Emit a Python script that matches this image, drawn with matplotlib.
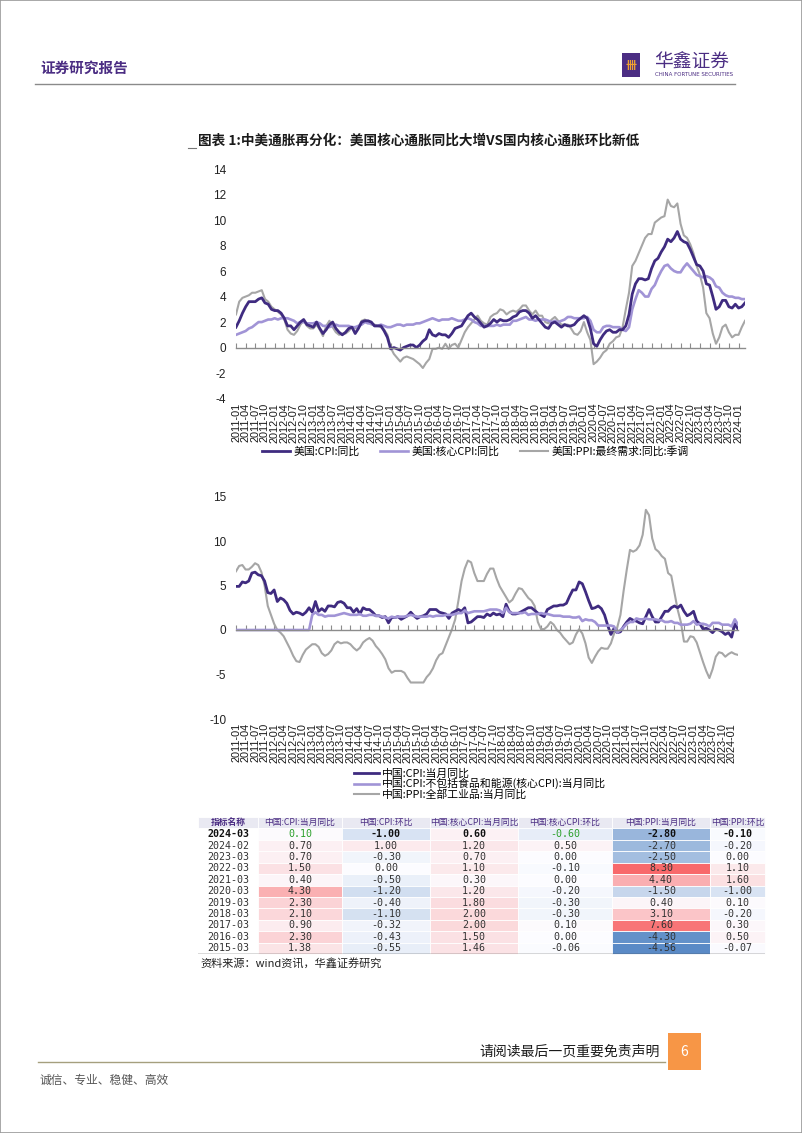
import numpy as np
import pandas as pd
import matplotlib
matplotlib.use("Agg")
import matplotlib.pyplot as plt
from matplotlib.patches import Rectangle
from matplotlib.colors import to_rgb

plt.rcParams['font.family'] = ['Noto Sans CJK SC', 'DejaVu Sans']
plt.rcParams['axes.unicode_minus'] = False

# ---- data: monthly, 2011-01 .. 2024-03 ----
months = pd.date_range('2011-01-01', '2024-03-01', freq='MS')

us_cpi = [1.6, 2.1, 2.7, 3.2, 3.6, 3.6, 3.6, 3.8, 3.9, 3.5, 3.4, 3.0,
          2.9, 2.9, 2.7, 2.3, 1.7, 1.7, 1.4, 1.7, 2.0, 2.2, 1.8, 1.7,
          1.6, 2.0, 1.5, 1.1, 1.4, 1.8, 2.0, 1.5, 1.2, 1.0, 1.2, 1.5,
          1.6, 1.1, 1.5, 2.0, 2.1, 2.1, 2.0, 1.7, 1.7, 1.7, 1.3, 0.8,
          -0.1, 0.0, -0.1, -0.2, 0.0, 0.1, 0.2, 0.2, 0.0, 0.2, 0.5, 0.7,
          1.4, 1.0, 0.9, 1.1, 1.0, 1.0, 0.8, 1.1, 1.5, 1.6, 1.7, 2.1,
          2.5, 2.7, 2.4, 2.2, 1.9, 1.6, 1.7, 1.9, 2.2, 2.0, 2.2, 2.1,
          2.1, 2.2, 2.4, 2.5, 2.8, 2.9, 2.9, 2.7, 2.3, 2.5, 2.2, 1.9,
          1.6, 1.5, 1.9, 2.0, 1.8, 1.6, 1.8, 1.7, 1.7, 1.8, 2.1, 2.3,
          2.5, 2.3, 1.5, 0.3, 0.1, 0.6, 1.0, 1.3, 1.4, 1.2, 1.2, 1.4,
          1.4, 1.7, 2.6, 4.2, 5.0, 5.4, 5.4, 5.3, 5.4, 6.2, 6.8, 7.0,
          7.5, 7.9, 8.5, 8.3, 8.6, 9.1, 8.5, 8.3, 8.2, 7.7, 7.1, 6.5,
          6.4, 6.0, 5.0, 4.9, 4.0, 3.0, 3.2, 3.7, 3.7, 3.2, 3.1, 3.4,
          3.1, 3.2, 3.5]

us_core = [1.0, 1.1, 1.2, 1.3, 1.5, 1.6, 1.8, 2.0, 2.0, 2.1, 2.2, 2.2,
           2.3, 2.2, 2.3, 2.3, 2.3, 2.2, 2.1, 1.9, 2.0, 2.0, 1.9, 1.9,
           1.9, 2.0, 1.9, 1.7, 1.7, 1.6, 1.7, 1.8, 1.7, 1.7, 1.7, 1.7,
           1.6, 1.6, 1.7, 1.8, 2.0, 1.9, 1.9, 1.7, 1.7, 1.8, 1.7, 1.6,
           1.6, 1.7, 1.8, 1.8, 1.7, 1.8, 1.8, 1.8, 1.9, 1.9, 2.0, 2.1,
           2.2, 2.3, 2.2, 2.1, 2.2, 2.2, 2.2, 2.3, 2.2, 2.1, 2.1, 2.2,
           2.3, 2.2, 2.0, 1.9, 1.7, 1.7, 1.7, 1.7, 1.7, 1.8, 1.7, 1.8,
           1.8, 1.8, 2.1, 2.1, 2.2, 2.3, 2.4, 2.2, 2.2, 2.1, 2.2, 2.2,
           2.2, 2.1, 2.0, 2.1, 2.0, 2.1, 2.2, 2.4, 2.4, 2.3, 2.3, 2.3,
           2.3, 2.4, 2.1, 1.4, 1.2, 1.2, 1.6, 1.7, 1.7, 1.6, 1.6, 1.6,
           1.4, 1.3, 1.6, 3.0, 3.8, 4.5, 4.3, 4.0, 4.0, 4.6, 4.9, 5.5,
           6.0, 6.4, 6.5, 6.2, 6.0, 5.9, 5.9, 6.3, 6.6, 6.3, 6.0, 5.7,
           5.6, 5.5, 5.6, 5.5, 5.3, 4.8, 4.7, 4.3, 4.1, 4.0, 4.0, 3.9,
           3.9, 3.8, 3.8]

us_ppi = [2.6, 3.6, 3.9, 4.0, 4.1, 4.3, 4.3, 4.4, 4.5, 3.8, 3.6, 3.2,
          3.0, 2.8, 2.6, 2.2, 1.4, 1.1, 1.0, 1.3, 1.8, 2.1, 1.7, 1.5,
          1.5, 1.8, 1.4, 0.9, 1.7, 2.1, 1.6, 1.2, 1.0, 1.1, 1.1, 1.3,
          1.6, 1.5, 1.6, 2.1, 2.2, 2.0, 1.8, 1.8, 1.7, 1.6, 1.4, 1.0,
          0.0, -0.5, -0.8, -1.1, -0.8, -0.7, -0.8, -0.9, -1.1, -1.3, -1.6, -1.2,
          -0.9, -0.1, -0.1, 0.0, -0.1, 0.3, -0.1, 0.2, 0.3, 0.0, 0.6, 1.2,
          1.6, 1.9, 2.2, 2.5, 2.1, 1.9, 1.8, 2.4, 2.6, 2.7, 3.0, 2.9,
          2.6, 2.8, 2.9, 2.8, 3.0, 3.3, 3.3, 2.9, 2.6, 2.9, 2.5, 2.5,
          2.0, 1.9, 2.2, 2.4, 2.1, 1.8, 1.8, 1.8, 1.5, 1.1, 1.0, 1.3,
          2.0, 1.2, 0.6, -1.3, -1.1, -0.8, -0.4, -0.2, 0.3, 0.5, 0.8, 0.9,
          1.6, 3.0, 4.3, 6.4, 6.8, 7.4, 8.0, 8.6, 8.9, 8.9, 9.8, 10.0,
          10.2, 10.3, 11.6, 11.1, 11.0, 11.3, 9.7, 8.8, 8.6, 8.1, 7.4, 6.4,
          5.7, 4.7, 2.7, 2.3, 1.1, 0.3, 0.8, 1.6, 1.8, 1.2, 0.8, 1.0,
          1.0, 1.6, 2.1]

cn_cpi = [4.9, 4.9, 5.4, 5.3, 5.5, 6.4, 6.5, 6.2, 6.1, 5.5, 4.2, 4.1,
          4.5, 3.2, 3.6, 3.4, 3.0, 2.2, 1.8, 2.0, 1.9, 1.7, 2.0, 2.5,
          2.0, 3.2, 2.1, 2.4, 2.1, 2.7, 2.7, 2.6, 3.1, 3.2, 3.0, 2.5,
          2.5, 2.0, 2.4, 1.8, 2.5, 2.3, 2.3, 2.0, 1.6, 1.6, 1.4, 1.5,
          0.8, 1.4, 1.4, 1.5, 1.2, 1.4, 1.6, 2.0, 1.6, 1.3, 1.5, 1.6,
          1.8, 2.3, 2.3, 2.3, 2.0, 1.9, 1.8, 1.3, 1.9, 2.1, 2.3, 2.1,
          2.5, 0.8, 0.9, 1.2, 1.5, 1.5, 1.4, 1.8, 1.6, 1.9, 1.7, 1.8,
          1.5, 2.9, 2.1, 1.8, 1.8, 1.9, 2.1, 2.3, 2.5, 2.5, 2.2, 1.9,
          1.7, 1.5, 2.3, 2.5, 2.7, 2.7, 2.8, 2.8, 3.0, 3.8, 4.5, 4.5,
          5.4, 5.2, 4.3, 3.3, 2.4, 2.5, 2.7, 2.4, 1.7, 0.5, -0.5, 0.2,
          -0.3, -0.2, 0.4, 0.9, 1.3, 1.1, 1.0, 0.8, 0.7, 1.5, 2.3, 1.5,
          0.9, 0.9, 1.5, 2.1, 2.1, 2.5, 2.7, 2.5, 2.8, 2.1, 1.6, 1.8,
          2.1, 1.0, 0.7, 0.1, 0.2, 0.0, -0.3, 0.1, 0.0, -0.2, -0.5, -0.3,
          -0.8, 0.7, 0.1]

cn_core = [0.0] * 24 + [
           1.7, 2.0, 1.7, 1.7, 1.5, 1.6, 1.6, 1.6, 1.7, 1.8, 1.9, 1.8,
           1.7, 1.7, 1.7, 1.8, 1.6, 1.6, 1.7, 1.7, 1.6, 1.6, 1.5, 1.4,
           1.3, 1.5, 1.4, 1.5, 1.5, 1.5, 1.6, 1.7, 1.6, 1.5, 1.5, 1.5,
           1.5, 1.6, 1.5, 1.6, 1.6, 1.6, 1.7, 1.7, 1.7, 1.8, 1.9, 1.9,
           2.2, 1.9, 2.0, 2.1, 2.1, 2.1, 2.1, 2.2, 2.3, 2.3, 2.3, 2.2,
           1.9, 2.5, 2.0, 1.9, 1.9, 1.9, 1.9, 2.0, 1.7, 1.8, 1.8, 1.8,
           1.9, 1.8, 1.8, 1.7, 1.6, 1.6, 1.6, 1.5, 1.5, 1.5, 1.4, 1.4,
           1.5, 1.0, 1.2, 1.1, 1.1, 0.9, 0.5, 0.5, 0.5, 0.5, 0.5, 0.4,
           -0.3, 0.0, 0.3, 0.7, 0.9, 0.9, 1.3, 1.2, 1.2, 1.3, 1.2, 1.2,
           1.2, 1.1, 1.1, 0.9, 0.9, 1.0, 0.8, 0.8, 0.6, 0.6, 0.6, 0.7,
           1.0, 0.6, 0.7, 0.7, 0.6, 0.4, 0.8, 0.8, 0.8, 0.6, 0.6, 0.6,
           0.4, 1.2, 0.6]

cn_ppi = [6.6, 7.2, 7.3, 6.8, 6.8, 7.1, 7.5, 7.3, 6.5, 5.0, 2.7, 1.7,
          0.7, 0.0, -0.3, -0.7, -1.4, -2.1, -2.9, -3.5, -3.6, -2.8, -2.2, -1.9,
          -1.6, -1.6, -1.9, -2.6, -2.9, -2.7, -2.3, -1.6, -1.3, -1.5, -1.4, -1.4,
          -1.6, -2.0, -2.3, -2.0, -1.4, -1.1, -0.9, -1.2, -1.8, -2.2, -2.7, -3.3,
          -4.3, -4.8, -4.6, -4.6, -4.6, -4.8, -5.4, -5.9, -5.9, -5.9, -5.9, -5.9,
          -5.3, -4.9, -4.3, -3.4, -2.8, -2.6, -1.7, -0.8, 0.1, 1.2, 3.3, 5.5,
          6.9, 7.8, 7.6, 6.4, 5.5, 5.5, 5.5, 6.3, 6.9, 6.9, 5.8, 4.9,
          4.3, 3.7, 3.1, 3.4, 4.1, 4.7, 4.6, 4.1, 3.6, 3.3, 2.7, 0.9,
          0.1, 0.1, 0.4, 0.9, 0.6, 0.0, -0.3, -0.8, -1.2, -1.6, -1.4, -0.5,
          0.1, -0.4, -1.5, -3.1, -3.7, -3.0, -2.4, -2.0, -2.1, -2.1, -1.5, -0.4,
          0.3, 1.7, 4.4, 6.8, 9.0, 8.8, 9.0, 9.5, 10.7, 13.5, 12.9, 10.3,
          9.1, 8.8, 8.3, 8.0, 6.4, 6.1, 4.2, 2.3, 0.9, -1.3, -1.3, -0.7,
          -0.8, -1.4, -2.5, -3.6, -4.6, -5.4, -4.4, -3.0, -2.5, -2.6, -3.0, -2.7,
          -2.5, -2.7, -2.8]

# ---- table data ----
tbl_header = ['指标名称', '中国:CPI:当月同比', '中国:CPI:环比', '中国:核心CPI:当月同比',
              '中国:核心CPI:环比', '中国:PPI:当月同比', '中国:PPI:环比']
tbl_dates = ['2024-03', '2024-02', '2023-03', '2022-03', '2021-03', '2020-03',
             '2019-03', '2018-03', '2017-03', '2016-03', '2015-03']
tbl_cpi_yoy = [0.10, 0.70, 0.70, 1.50, 0.40, 4.30, 2.30, 2.10, 0.90, 2.30, 1.38]
tbl_cpi_mom = [-1.00, 1.00, -0.30, 0.00, -0.50, -1.20, -0.40, -1.10, -0.32, -0.43, -0.55]
tbl_core_yoy = [0.60, 1.20, 0.70, 1.10, 0.30, 1.20, 1.80, 2.00, 2.00, 1.50, 1.46]
tbl_core_mom = [-0.60, 0.50, 0.00, -0.10, 0.00, -0.20, -0.30, -0.30, 0.10, 0.00, -0.06]
tbl_ppi_yoy = [-2.80, -2.70, -2.50, 8.30, 4.40, -1.50, 0.40, 3.10, 7.60, -4.30, -4.56]
tbl_ppi_mom = [-0.10, -0.20, 0.00, 1.10, 1.60, -1.00, 0.10, -0.20, 0.30, 0.50, -0.07]

# ---- styling ----
W, H = 802, 1133
DARK = '#3f2b80'
LIGHT = '#a194d6'
GREY = '#a6a6a6'
HEAD = '#4b2d83'


def fx(px):
    return px / W


def fy(py):
    return 1 - py / H


def style_axis(ax, ylim, yticks, xticks, xlabels):
    ax.set_xlim(0, len(months) - 1)
    ax.set_ylim(*ylim)
    ax.set_yticks(yticks)
    for s in ('top', 'right', 'left'):
        ax.spines[s].set_visible(False)
    ax.spines['bottom'].set_position(('data', 0))
    ax.spines['bottom'].set_color('#8c8c8c')
    ax.spines['bottom'].set_linewidth(1.0)
    ax.set_xticks(xticks)
    ax.tick_params(axis='x', direction='in', length=3.5, width=0.8,
                   color='#8c8c8c', labelbottom=False)
    ax.tick_params(axis='y', length=0, labelsize=8.5, pad=7, labelcolor='#222222')
    for t in ax.get_yticklabels():
        t.set_fontfamily('Liberation Sans')
    sec = ax.secondary_xaxis('bottom')
    sec.set_xticks(xticks, labels=xlabels)
    sec.tick_params(length=0, labelsize=7.8, rotation=90, pad=3, labelcolor='#1a1a1a')
    sec.spines['bottom'].set_visible(False)
    for t in sec.get_xticklabels():
        t.set_fontfamily('Liberation Sans')


x = np.arange(len(months))
xticks = x[::3]
xlabels = [d.strftime('%Y-%m') for d in months[::3]]

fig = plt.figure(figsize=(W / 100, H / 100), dpi=100)

# page frame
fig.add_artist(Rectangle((0, 0), 1, 1, transform=fig.transFigure, fill=False,
                         edgecolor='#9a9a9a', lw=1.2))

# header
fig.text(fx(40), fy(68), '证券研究报告', fontsize=10.5, color=HEAD,
         fontweight='bold', va='center')
fig.add_artist(Rectangle((fx(622), fy(77)), 18 / W, 24 / H, transform=fig.transFigure,
                         facecolor=HEAD, edgecolor='none'))
fig.text(fx(631), fy(65), '卌', fontsize=8, color='#f0a030', ha='center', va='center',
         fontweight='bold')
fig.text(fx(654), fy(62), '华鑫证券', fontsize=13.5, color=HEAD, va='center')
fig.text(fx(655), fy(75), 'CHINA FORTUNE SECURITIES', fontsize=4.0, color=HEAD,
         va='center', family='DejaVu Sans')
fig.add_artist(plt.Line2D([fx(35), fx(735)], [fy(84), fy(84)], color='#8a8a8a', lw=1))

# figure title
fig.text(fx(198), fy(141), '图表 1:中美通胀再分化：美国核心通胀同比大增VS国内核心通胀环比新低',
         fontsize=9.8, fontweight='bold', color='#1a1a1a', va='center')
fig.add_artist(plt.Line2D([fx(188), fx(196)], [fy(148), fy(148)], color='#777777', lw=0.8))

# ---- chart 1: US ----
ax1 = fig.add_axes([fx(236), fy(398.6), (745 - 236) / W, (398.6 - 169) / H])
ax1.plot(x, us_ppi, color=GREY, lw=1.5, label='美国:PPI:最终需求:同比:季调')
ax1.plot(x, us_core, color=LIGHT, lw=1.9, label='美国:核心CPI:同比')
ax1.plot(x, us_cpi, color=DARK, lw=2.0, label='美国:CPI:同比')
style_axis(ax1, (-4, 14), np.arange(-4, 15, 2), xticks, xlabels)
h, l = ax1.get_legend_handles_labels()
ax1.legend(h[::-1], l[::-1], loc='center left', ncol=3, frameon=False,
           bbox_to_anchor=(fx(262), fy(451)), bbox_transform=fig.transFigure,
           fontsize=7.8, handlelength=2.6, handletextpad=0.3, columnspacing=1.9,
           borderaxespad=0, borderpad=0)

# ---- chart 2: China ----
ax2 = fig.add_axes([fx(236), fy(719), (738 - 236) / W, (719 - 496.5) / H])
ax2.plot(x, cn_ppi, color=GREY, lw=1.5, label='中国:PPI:全部工业品:当月同比')
ax2.plot(x, cn_cpi, color=DARK, lw=2.0, label='中国:CPI:当月同比')
ax2.plot(x, cn_core, color=LIGHT, lw=1.9, label='中国:CPI:不包括食品和能源(核心CPI):当月同比')
style_axis(ax2, (-10, 15), np.arange(-10, 16, 5), xticks, xlabels)
h, l = ax2.get_legend_handles_labels()
ax2.legend([h[1], h[2], h[0]], [l[1], l[2], l[0]], loc='center left', ncol=1,
           frameon=False, bbox_to_anchor=(fx(354), fy(784)), bbox_transform=fig.transFigure,
           fontsize=7.8, handlelength=2.3, handletextpad=0.3, labelspacing=-0.05,
           borderaxespad=0, borderpad=0)

# ---- table ----
cols = [tbl_cpi_yoy, tbl_cpi_mom, tbl_core_yoy, tbl_core_mom, tbl_ppi_yoy, tbl_ppi_mom]
allv = np.array(cols)
vmax, vmin = allv.max(), allv.min()
white = np.array(to_rgb('#fcfcff'))
red = np.array(to_rgb('#f8696b'))
blue = np.array(to_rgb('#5a8ac6'))


def cell_color(v):
    if v >= 0:
        t = v / vmax
        return tuple(white * (1 - t) + red * t)
    t = v / vmin
    return tuple(white * (1 - t) + blue * t)


cell_text = [tbl_header]
cell_cols = [['#e9e9f2'] * 7]
for i, d in enumerate(tbl_dates):
    cell_text.append([d] + [f'{c[i]:.2f}' for c in cols])
    cell_cols.append(['white'] + [cell_color(c[i]) for c in cols])

col_px = np.array([60, 84, 88, 88, 94, 98, 55], dtype=float)
tax = fig.add_axes([fx(198), fy(954), (765 - 198) / W, (954 - 817) / H])
tax.axis('off')
tbl = tax.table(cellText=cell_text, cellColours=cell_cols, colWidths=list(col_px / col_px.sum()),
                bbox=[0, 0, 1, 1], cellLoc='center')
tbl.auto_set_font_size(False)
for (r, c), cell in tbl.get_celld().items():
    cell.set_edgecolor('white')
    cell.set_linewidth(0.6)
    txt = cell.get_text()
    if r == 0:
        txt.set_fontsize(6.3)
        txt.set_color(HEAD)
        if c == 0:
            txt.set_fontweight('bold')
    else:
        txt.set_fontsize(7.2)
        txt.set_fontfamily('DejaVu Sans Mono')
        txt.set_color('#333333')
        if r == 1:
            txt.set_fontweight('bold')
            txt.set_color('#111111')
tbl[1, 1].get_text().set_color('#2ca02c')
tbl[1, 4].get_text().set_color('#2ca02c')
tbl[1, 1].get_text().set_fontweight('normal')
tbl[1, 4].get_text().set_fontweight('normal')
tax.axhline(0, color='#444444', lw=1.0)

fig.text(fx(200), fy(964), '资料来源：wind资讯，华鑫证券研究', fontsize=8, color='#222222', va='center')

# ---- footer ----
fig.text(fx(660), fy(1052), '请阅读最后一页重要免责声明', fontsize=10, color='#1a1a1a',
         ha='right', va='center')
fig.add_artist(Rectangle((fx(668), fy(1070)), 33 / W, 37 / H, transform=fig.transFigure,
                         facecolor='#f79646', edgecolor='none'))
fig.text(fx(684.5), fy(1052), '6', fontsize=10, color='white', ha='center', va='center')
fig.add_artist(plt.Line2D([fx(38), fx(665)], [fy(1062), fy(1062)], color='#a59f7e', lw=1))
fig.text(fx(40), fy(1080), '诚信、专业、稳健、高效', fontsize=8.5, color='#555555', va='center')

fig.savefig('out.png', dpi=100)
